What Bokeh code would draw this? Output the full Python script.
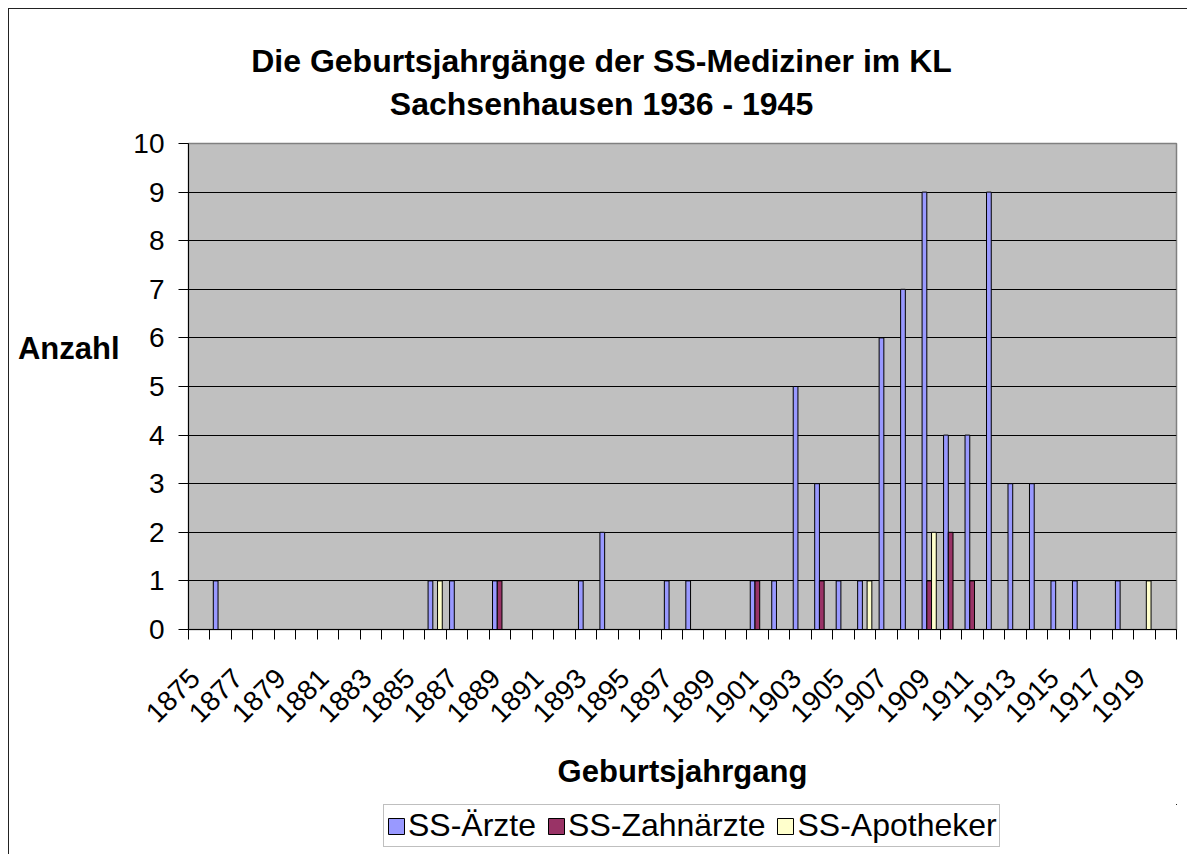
import math
import numpy as np
from bokeh.plotting import figure
from bokeh.layouts import column
from bokeh.models import (Range1d, FixedTicker, Legend, LegendItem, ColumnDataSource, LinearAxis)
from bokeh.transform import dodge
from bokeh.embed import file_html
from bokeh.resources import INLINE

# ---------------- data ----------------
years = [1875, 1876, 1877, 1878, 1879, 1880, 1881, 1882, 1883, 1884,
         1885, 1886, 1887, 1888, 1889, 1890, 1891, 1892, 1893, 1894,
         1895, 1896, 1897, 1898, 1899, 1900, 1901, 1902, 1903, 1904,
         1905, 1906, 1907, 1908, 1909, 1910, 1911, 1912, 1913, 1914,
         1915, 1916, 1917, 1918, 1919, 1920]
aerzte = [0, 1, 0, 0, 0, 0, 0, 0, 0, 0,
          0, 1, 1, 0, 1, 0, 0, 0, 1, 2,
          0, 0, 1, 1, 0, 0, 1, 1, 5, 3,
          1, 1, 6, 7, 9, 4, 4, 9, 3, 3,
          1, 1, 0, 1, 0, 0]
zahnaerzte = [0, 0, 0, 0, 0, 0, 0, 0, 0, 0,
              0, 0, 0, 0, 1, 0, 0, 0, 0, 0,
              0, 0, 0, 0, 0, 0, 1, 0, 0, 1,
              0, 0, 0, 0, 1, 2, 1, 0, 0, 0,
              0, 0, 0, 0, 0, 0]
apotheker = [0, 0, 0, 0, 0, 0, 0, 0, 0, 0,
             0, 1, 0, 0, 0, 0, 0, 0, 0, 0,
             0, 0, 0, 0, 0, 0, 0, 0, 0, 0,
             0, 1, 0, 0, 2, 0, 0, 0, 0, 0,
             0, 0, 0, 0, 1, 0]
series_names = ["SS-Ärzte", "SS-Zahnärzte", "SS-Apotheker"]
series_colors = ["#9999FF", "#993366", "#FFFFCC"]
y_ticks = [0, 1, 2, 3, 4, 5, 6, 7, 8, 9, 10]
title_lines = ["Die Geburtsjahrgänge der SS-Mediziner im KL", "Sachsenhausen 1936 - 1945"]
y_title = "Anzahl"
x_title = "Geburtsjahrgang"

# ---------------- layout (page pixels) ----------------
FONT = "Liberation Sans"
CX0, CY0 = 9, 9                        # canvas origin on page (8px margin + 1px border)
FL, FR, FT, FB = 188, 1176, 143, 629   # plot-area edges on page
W, H = 1178, 795                       # main figure
LH = 50                                # legend strip height
n = len(years)
xu = (FR - FL) / n
yu = (FB - FT) / (y_ticks[-1] - y_ticks[0])

source = ColumnDataSource(dict(x=np.arange(n), a=aerzte, z=zahnaerzte, p=apotheker))

p = figure(width=W, height=H, output_backend="svg", toolbar_location=None,
           title_location=None,
           x_range=Range1d(0, n), y_range=Range1d(y_ticks[0], y_ticks[-1]),
           min_border_left=FL - CX0, min_border_right=W - (FR - CX0),
           min_border_top=FT - CY0, min_border_bottom=H - (FB - CY0))

p.background_fill_color = "#C0C0C0"
p.border_fill_color = "white"
p.outline_line_color = "#808080"
p.outline_line_width = 1.5

bw = 0.22
offsets = [0.265, 0.485, 0.705]
cols = ["a", "z", "p"]
for col, off, color in zip(cols, offsets, series_colors):
    p.vbar(x=dodge("x", off, range=p.x_range), top=col, width=bw, bottom=0,
           source=source, fill_color=color, line_color="black", line_width=1)

xa = p.below[0]
ya = p.left[0]

# grid
p.xgrid.visible = False
p.ygrid.ticker = FixedTicker(ticks=y_ticks)
p.ygrid.grid_line_color = "black"
p.ygrid.grid_line_width = 1

# y axis
ya.ticker = FixedTicker(ticks=y_ticks)
ya.major_label_text_font = FONT
ya.major_label_text_font_size = "28px"
ya.major_label_text_color = "black"
ya.major_tick_out = 10
ya.major_tick_in = 0
ya.minor_tick_line_color = None
ya.axis_line_color = "black"
ya.major_tick_line_color = "black"
ya.major_label_standoff = 14

# x axis
label_pos = [i + 0.3 for i in range(0, n, 2)]
xa.ticker = FixedTicker(ticks=label_pos, minor_ticks=list(range(n + 1)))
xa.major_label_overrides = {pos: str(years[i]) for pos, i in zip(label_pos, range(0, n, 2))}
xa.major_tick_line_color = None
xa.major_tick_out = 10
xa.major_tick_in = 0
xa.minor_tick_line_color = "black"
xa.minor_tick_out = 10
xa.minor_tick_in = 0
xa.axis_line_color = "black"
xa.major_label_orientation = math.pi / 4
xa.major_label_text_font = FONT
xa.major_label_text_font_size = "28px"
xa.major_label_text_color = "black"
xa.major_label_standoff = 34
xa.axis_label = x_title
xa.axis_label_text_font = FONT
xa.axis_label_text_font_size = "31px"
xa.axis_label_text_font_style = "bold"
xa.axis_label_text_color = "black"
xa.axis_label_standoff = 20


def text_axis(pos, text, size, standoff):
    """An axis that carries one bold text at one position (used for the titles)."""
    return LinearAxis(ticker=FixedTicker(ticks=[pos]), major_label_overrides={pos: text},
                      major_tick_line_color=None, major_tick_out=0, major_tick_in=0,
                      minor_tick_line_color=None, axis_line_color=None,
                      major_label_text_font=FONT, major_label_text_font_size=f"{size}px",
                      major_label_text_font_style="bold", major_label_text_color="black",
                      major_label_standoff=standoff)


# y axis title, horizontal, left of the tick labels
ytitle_pos = round((FB - 348) / yu, 2)
p.add_layout(text_axis(ytitle_pos, y_title, 31, 11), "left")

# chart title, two centred lines above the plot area
title_pos = round((601 - FL) / xu, 2)
p.add_layout(text_axis(title_pos, title_lines[1], 32, 22), "above")
p.add_layout(text_axis(title_pos, title_lines[0], 32, 4), "above")

# ---------------- legend strip ----------------
pl = figure(width=W, height=LH, output_backend="svg", toolbar_location=None,
            title_location=None, x_axis_type=None, y_axis_type=None,
            x_range=Range1d(-20, -10), y_range=Range1d(-20, -10),
            min_border=0, min_border_left=0, min_border_right=0,
            min_border_top=0, min_border_bottom=0)
pl.outline_line_color = None
pl.background_fill_color = "white"
pl.border_fill_color = "white"
pl.grid.visible = False
leg_renderers = []
for col, off, color in zip(cols, offsets, series_colors):
    leg_renderers.append(pl.vbar(x=dodge("x", off), top=col, width=bw, bottom=0, source=source,
                                 fill_color=color, line_color="black", line_width=1))

# the strip's frame is aligned with the main plot area, so x is measured from FL
legend = Legend(items=[LegendItem(label=nm, renderers=[r]) for nm, r in zip(series_names, leg_renderers)],
                orientation="horizontal", location=(383 - FL, (CY0 + H + LH) - 847),
                label_text_font=FONT, label_text_font_size="32px", label_text_color="black",
                glyph_width=20, glyph_height=20, label_standoff=2, spacing=10, padding=2,
                margin=0, border_line_color="#808080", border_line_width=1.5,
                background_fill_color="white", background_fill_alpha=1.0)
pl.add_layout(legend)

page = column(p, pl, spacing=0,
              styles={"margin-left": "8px", "margin-top": "8px",
                      "border-left": "1px solid #222222", "border-top": "1px solid #222222"})

open("out.html", "w").write(file_html(page, INLINE))
